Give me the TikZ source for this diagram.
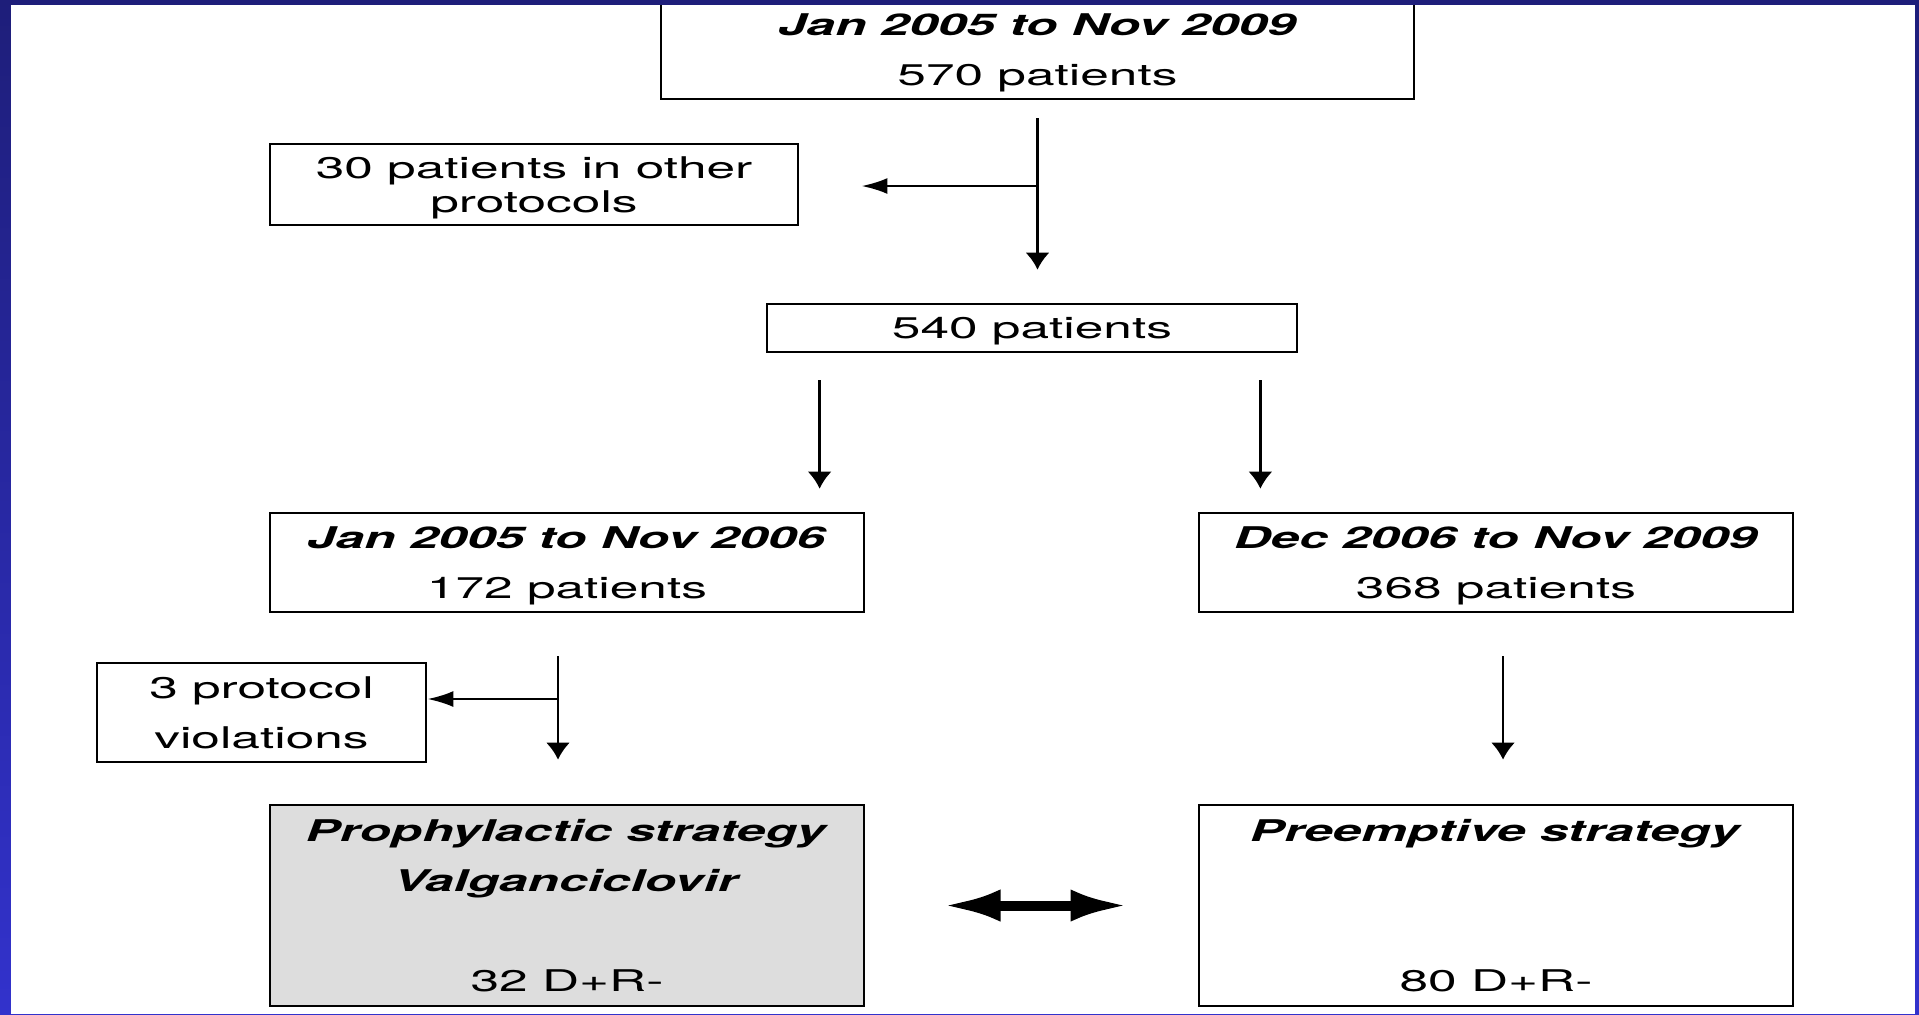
\documentclass[tikz,border=0pt]{standalone}
\usepackage{fontspec}
\setmainfont{TeX Gyre Heros}[FakeStretch=1.72]
\usepackage{tikz}
\usetikzlibrary{arrows.meta, positioning}
\tikzset{>=latex}
\definecolor{mygray}{RGB}{221, 221, 221}
\definecolor{mynavy}{RGB}{30, 30, 122}
\definecolor{myblue}{RGB}{50, 50, 204}
\tikzset{flowbox/.style={draw, line width=0.025cm, inner sep=0pt, align=center, text depth=0pt, font=\fontsize{8.5}{14.2}\selectfont},
  vline/.style={line width=0.025cm, -{Latex[length=0.17cm, width=0.24cm]}},
  hline/.style={line width=0.025cm, -{Latex[length=0.26cm, width=0.16cm]}}}

\begin{document}
\begin{tikzpicture}[x=0.01cm, y=-0.01cm]
\useasboundingbox (0,0) rectangle (1919,1014);
\fill[top color=mynavy, bottom color=myblue] (0,0) rectangle (1919,1014);
\fill[white] (11,5) rectangle (1915,1014);
% boxes
\node[flowbox, minimum width=7.53cm, minimum height=0.99cm] (all) at (1037.5,49.5) {\textbf{\textit{Jan 2005 to Nov 2009}}\\570 patients};
\node[flowbox, minimum width=5.28cm, minimum height=0.81cm, font=\fontsize{8.5}{9.7}\selectfont] (other) at (534,184.5) {30 patients in other\\protocols};
\node[flowbox, minimum width=5.30cm, minimum height=0.48cm] (incl) at (1032,328) {540 patients};
\node[flowbox, minimum width=5.94cm, minimum height=0.99cm] (early) at (567,562.5) {\textbf{\textit{Jan 2005 to Nov 2006}}\\172 patients};
\node[flowbox, minimum width=5.94cm, minimum height=0.99cm] (late) at (1496,562.5) {\textbf{\textit{Dec 2006 to Nov 2009}}\\368 patients};
\node[flowbox, minimum width=3.29cm, minimum height=0.99cm] (viol) at (261.5,712.5) {3 protocol\\violations};
\node[flowbox, fill = mygray, minimum width=5.94cm, minimum height=2.01cm] (proph) at (567,905.5) {\textbf{\textit{Prophylactic strategy}}\\\textbf{\textit{Valganciclovir}}\\[0.5cm]32 D+R-};
\node[flowbox, minimum width=5.94cm, minimum height=2.01cm] (preempt) at (1496,905.5) {\textbf{\textit{Preemptive strategy}}\\[1cm]80 D+R-};
% arrows
\coordinate (b1) at (1038,186);
\coordinate (s1) at ([xshift=0.54cm]incl.south west);
\coordinate (s2) at ([xshift=-0.38cm]incl.south east);
\coordinate (s3) at ([xshift=-0.09cm]early.south);
\coordinate (s4) at ([xshift=0.07cm]late.south);
\coordinate (b2) at (558,699);
\draw[vline, shorten <=0.18cm, shorten >=0.33cm] (all.south) -- (all.south |- incl.north);
\draw[hline, shorten >=0.62cm] (b1) -- (b1 -| other.east);
\draw[vline, shorten <=0.27cm, shorten >=0.23cm] (s1) -- (s1 |- early.north);
\draw[vline, shorten <=0.27cm, shorten >=0.23cm] (s2) -- (s2 |- late.north);
\draw[vline, shorten <=0.43cm, shorten >=0.44cm] (s3) -- (s3 |- proph.north);
\draw[hline] (b2) -- (b2 -| viol.east);
\draw[vline, shorten <=0.43cm, shorten >=0.44cm] (s4) -- (s4 |- preempt.north);
\draw[line width=0.1cm, {Latex[length=0.58cm, width=0.32cm]}-{Latex[length=0.58cm, width=0.32cm]}, shorten <=0.77cm, shorten >=0.69cm] (proph.east) -- (preempt.west);
% top bar over the first box
\fill[mynavy] (0,0) rectangle (1919,5);
\end{tikzpicture}
\end{document}
